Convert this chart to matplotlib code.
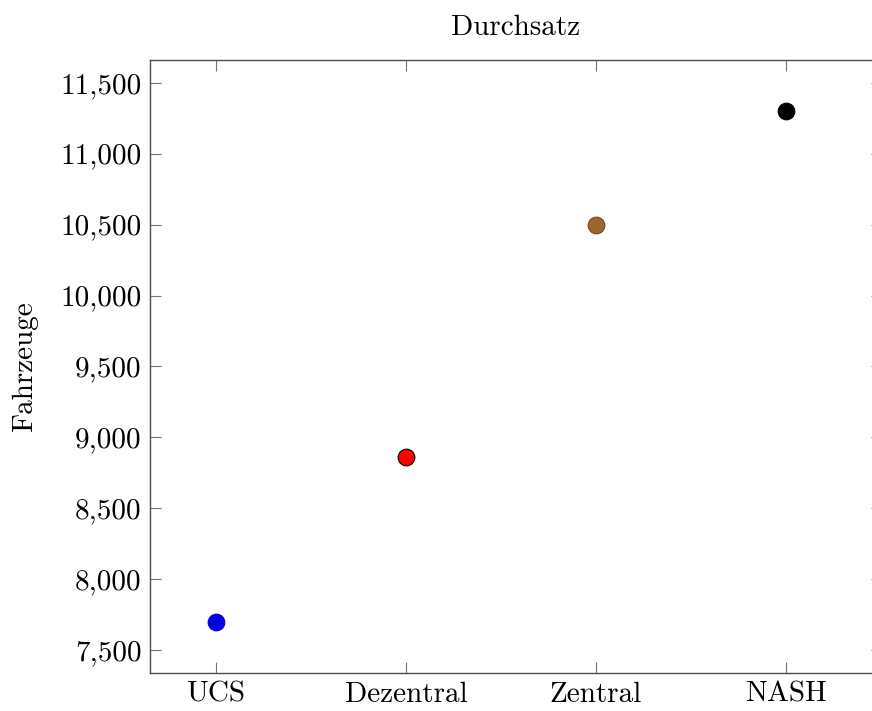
import matplotlib.pyplot as plt
import matplotlib as mpl
from matplotlib.ticker import FuncFormatter

# FONT: computer modern look
mpl.rcParams['font.family'] = 'cmr10'
mpl.rcParams['axes.formatter.use_mathtext'] = True
mpl.rcParams['font.size'] = 21

# DATA
categories = ['UCS', 'Dezentral', 'Zentral', 'NASH']
vehicles = [7700, 8865, 10500, 11300]
colors = ['#0000e0', '#ff0000', '#9e662f', '#000000']
edges = ['#0000e0', '#000000', '#6e4520', '#000000']
yticks = [7500, 8000, 8500, 9000, 9500, 10000, 10500, 11000, 11500]

# PLOT
fig = plt.figure(figsize=(8.72, 7.11), dpi=100)
W, H = 872, 711
ax = fig.add_axes([150 / W, 1 - 673 / H, (882 - 150) / W, (673 - 60) / H])

xpos = list(range(len(categories)))
for x, v, c, e in zip(xpos, vehicles, colors, edges):
    ax.plot(x, v, 'o', ms=12, mfc=c, mec=e, mew=0.8, zorder=3)

ax.set_xlim(-0.347, 3.505)
ax.set_ylim(7340, 11660)
ax.set_xticks(xpos)
ax.set_xticklabels(categories)
ax.set_yticks(yticks)
ax.yaxis.set_major_formatter(FuncFormatter(lambda v, p: '{:,.0f}'.format(v)))

ax.tick_params(direction='in', length=8, width=0.8, color='0.45',
               top=True, right=True, labelsize=21, pad=6)
for s in ax.spines.values():
    s.set_color('0.3')
    s.set_linewidth(1.0)

ax.set_title('Durchsatz', fontsize=21, pad=18)
ax.set_ylabel('Fahrzeuge', fontsize=21, labelpad=16)

fig.savefig('out.png', dpi=100)
